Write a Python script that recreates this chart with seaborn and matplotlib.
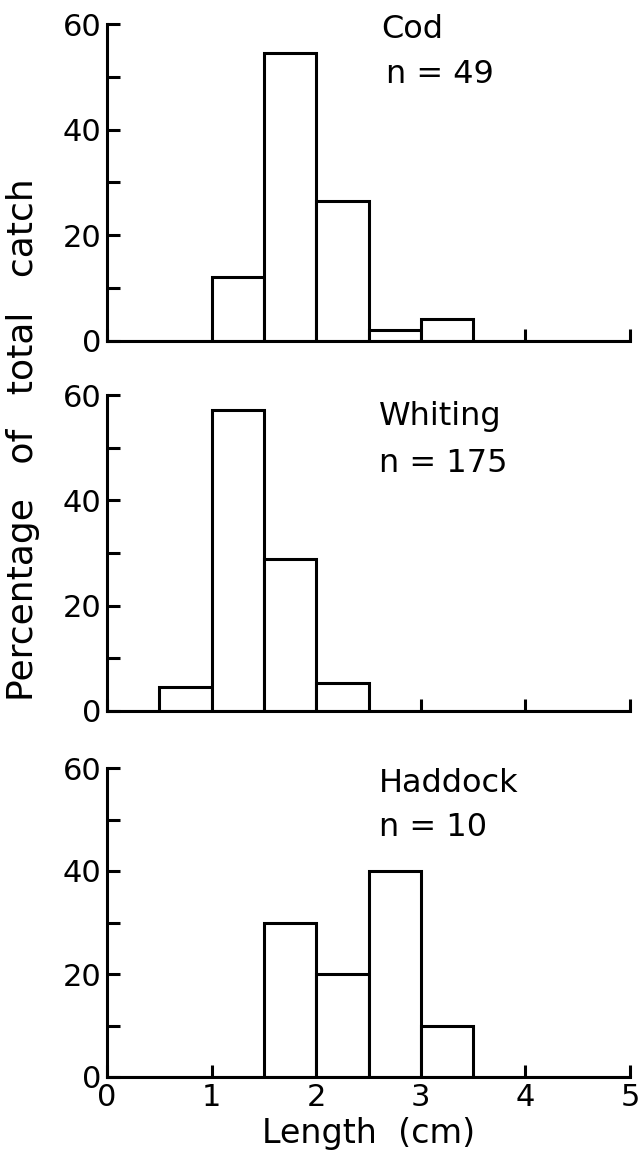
import numpy as np
import pandas as pd
import matplotlib
matplotlib.use("Agg")
import matplotlib.pyplot as plt
import seaborn as sns

sns.set_theme(style="ticks")
plt.rcParams['font.family'] = ['DejaVu Sans']
plt.rcParams['text.color'] = 'black'
plt.rcParams['axes.labelcolor'] = 'black'

# Data: percentage of total catch per 0.5 cm length class
bin_edges = [0, 0.5, 1.0, 1.5, 2.0, 2.5, 3.0, 3.5, 4.0, 4.5, 5.0]
cod_left = [1.0, 1.5, 2.0, 2.5, 3.0]
cod_pct = [12.2, 54.5, 26.5, 2.0, 4.1]
whiting_left = [0.5, 1.0, 1.5, 2.0]
whiting_pct = [4.5, 57.2, 28.8, 5.4]
haddock_left = [1.5, 2.0, 2.5, 3.0]
haddock_pct = [30, 20, 40, 10]

species = ["Cod", "Whiting", "Haddock"]
labels_n = ["n = 49", "n = 175", "n = 10"]
lefts = [cod_left, whiting_left, haddock_left]
pcts = [cod_pct, whiting_pct, haddock_pct]
x_ticks = [0, 1, 2, 3, 4, 5]
y_ticks = [0, 10, 20, 30, 40, 50, 60]
y_ticklabels = ["0", "", "20", "", "40", "", "60"]

W, H = 639, 1173
fig = plt.figure(figsize=(W / 100, H / 100), dpi=100)

panels_px = [(24, 341), (395, 711), (768, 1077)]  # top, bottom in pixels
left_px, right_px = 107, 630
text_pos = [((2.62, 59.0), (2.67, 50.5)), ((2.6, 56.0), (2.6, 47.0)), ((2.6, 57.0), (2.6, 48.5))]

lw = 2.2
fs = 22
axes = []
for i in range(3):
    top, bot = panels_px[i]
    ax = fig.add_axes([left_px / W, 1 - bot / H, (right_px - left_px) / W, (bot - top) / H])
    axes.append(ax)
    df = pd.DataFrame({"length": np.array(lefts[i]) + 0.25, "pct": pcts[i]})
    sns.histplot(data=df, x="length", weights="pct", bins=bin_edges, ax=ax,
                 color="white", edgecolor="black", linewidth=lw, alpha=1, stat="count")
    ax.set_xlim(0, 5)
    ax.set_ylim(0, 60)
    for s in ["top", "right"]:
        ax.spines[s].set_visible(False)
    for s in ["left", "bottom"]:
        ax.spines[s].set_linewidth(lw)
        ax.spines[s].set_color("black")
    ax.set_xticks(x_ticks)
    ax.set_yticks(y_ticks)
    ax.set_yticklabels(y_ticklabels)
    ax.tick_params(axis="both", direction="in", length=9, width=lw, colors="black",
                   labelsize=fs, pad=4)
    for t in ax.xaxis.get_major_ticks():
        t.tick1line.set_clip_on(False)
    if i < 2:
        ax.set_xticklabels([])
        ax.set_xlabel("")
    else:
        ax.set_xlabel("Length  (cm)", fontsize=24, labelpad=4)
    ax.set_ylabel("")
    ax.set_facecolor("white")
    (tx, ty), (nx, ny) = text_pos[i]
    ax.text(tx, ty, species[i], fontsize=23, va="center", ha="left")
    ax.text(nx, ny, labels_n[i], fontsize=23, va="center", ha="left")

fig.text(0.036, 0.625, "Percentage   of   total   catch", rotation=90, fontsize=26,
         va="center", ha="center")

fig.savefig("out.png", dpi=100, facecolor="white")
